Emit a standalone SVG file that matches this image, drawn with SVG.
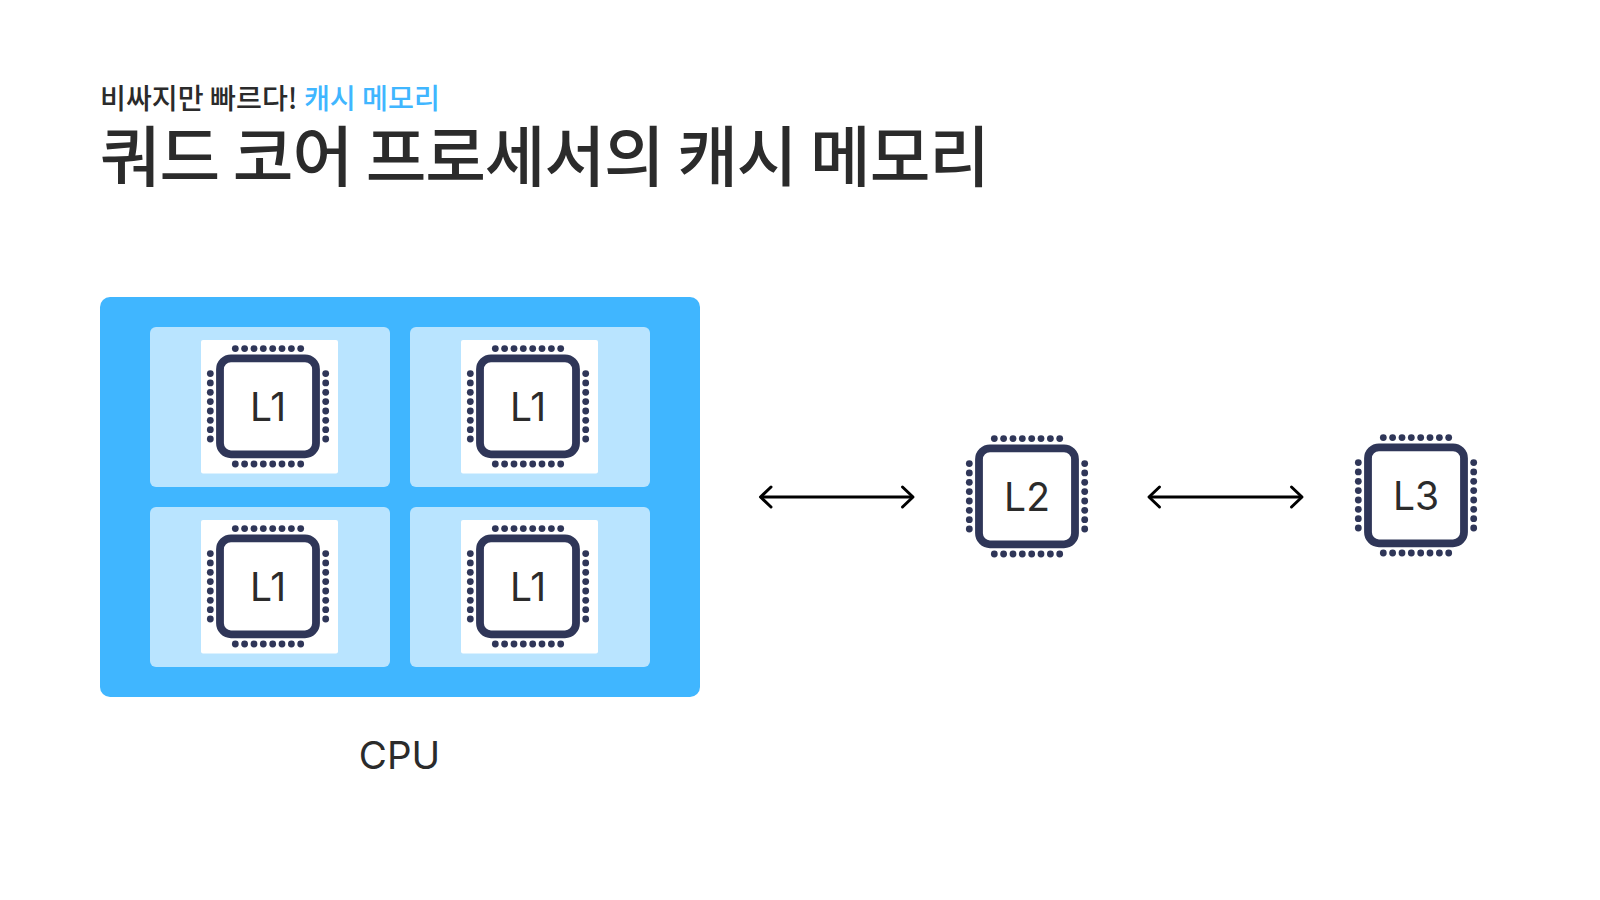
<svg xmlns="http://www.w3.org/2000/svg" width="1600" height="900" viewBox="0 0 1600 900">
<style>
text{font-family:"Inter","Noto Sans CJK KR",sans-serif;fill:#2b2b2b}
.k{font-family:"Noto Sans CJK KR",sans-serif}
.lab{font-size:39px;text-anchor:middle}
.panel{fill:#b9e4ff}
.wh{fill:#fff}
.conn{fill:none;stroke:#000;stroke-width:2.8}
</style>
<defs>
<g id="chip">
<rect x="-48" y="-48" width="96" height="96" rx="11" fill="#fff" stroke="#2f3658" stroke-width="7.8"/>
<g fill="#2f3658">
<circle cx="-32.7" cy="-57.7" r="3.4"/><circle cx="-23.4" cy="-57.7" r="3.4"/><circle cx="-14" cy="-57.7" r="3.4"/><circle cx="-4.7" cy="-57.7" r="3.4"/><circle cx="4.7" cy="-57.7" r="3.4"/><circle cx="14" cy="-57.7" r="3.4"/><circle cx="23.4" cy="-57.7" r="3.4"/><circle cx="32.7" cy="-57.7" r="3.4"/>
<circle cx="-32.7" cy="57.7" r="3.4"/><circle cx="-23.4" cy="57.7" r="3.4"/><circle cx="-14" cy="57.7" r="3.4"/><circle cx="-4.7" cy="57.7" r="3.4"/><circle cx="4.7" cy="57.7" r="3.4"/><circle cx="14" cy="57.7" r="3.4"/><circle cx="23.4" cy="57.7" r="3.4"/><circle cx="32.7" cy="57.7" r="3.4"/>
<circle cx="-57.7" cy="-32.7" r="3.4"/><circle cx="-57.7" cy="-23.4" r="3.4"/><circle cx="-57.7" cy="-14" r="3.4"/><circle cx="-57.7" cy="-4.7" r="3.4"/><circle cx="-57.7" cy="4.7" r="3.4"/><circle cx="-57.7" cy="14" r="3.4"/><circle cx="-57.7" cy="23.4" r="3.4"/><circle cx="-57.7" cy="32.7" r="3.4"/>
<circle cx="57.7" cy="-32.7" r="3.4"/><circle cx="57.7" cy="-23.4" r="3.4"/><circle cx="57.7" cy="-14" r="3.4"/><circle cx="57.7" cy="-4.7" r="3.4"/><circle cx="57.7" cy="4.7" r="3.4"/><circle cx="57.7" cy="14" r="3.4"/><circle cx="57.7" cy="23.4" r="3.4"/><circle cx="57.7" cy="32.7" r="3.4"/>
</g>
</g>
<marker id="ah" markerUnits="userSpaceOnUse" markerWidth="28" markerHeight="28" refX="14" refY="14" orient="auto-start-reverse" viewBox="0 0 28 28">
<path d="M3.500 4L14 14L3.500 24" fill="none" stroke="#000" stroke-width="3" stroke-linecap="round" stroke-linejoin="round"/>
</marker>
</defs>
<rect width="1600" height="900" fill="#fff"/>
<g id="title">
<text class="k" x="100" y="109" font-size="28.200" style="font-weight:450">비싸지만 빠르다! <tspan style="fill:#40b6ff">캐시 메모리</tspan></text>
<text class="k" x="100" y="181" font-size="66" letter-spacing="-1.15" style="font-weight:500">쿼드 코어 프로세서의 캐시 메모리</text>
</g>
<g id="cpu">
<rect x="100" y="297" width="600" height="400" rx="10" fill="#40b6ff"/>
<text x="399.500" y="769" font-size="38.500" text-anchor="middle">CPU</text>
</g>
<g id="l1-a">
<rect class="panel" x="150" y="327" width="240" height="160" rx="6"/>
<rect class="wh" x="201" y="340" width="137" height="133.500" rx="2"/>
<use href="#chip" x="268" y="406.300"/>
<text class="lab" x="268" y="420.700">L1</text>
</g>
<g id="l1-b">
<rect class="panel" x="410" y="327" width="240" height="160" rx="6"/>
<rect class="wh" x="461" y="340" width="137" height="133.500" rx="2"/>
<use href="#chip" x="528" y="406.300"/>
<text class="lab" x="528" y="420.700">L1</text>
</g>
<g id="l1-c">
<rect class="panel" x="150" y="507" width="240" height="160" rx="6"/>
<rect class="wh" x="201" y="520" width="137" height="133.500" rx="2"/>
<use href="#chip" x="268" y="586.300"/>
<text class="lab" x="268" y="600.700">L1</text>
</g>
<g id="l1-d">
<rect class="panel" x="410" y="507" width="240" height="160" rx="6"/>
<rect class="wh" x="461" y="520" width="137" height="133.500" rx="2"/>
<use href="#chip" x="528" y="586.300"/>
<text class="lab" x="528" y="600.700">L1</text>
</g>
<g id="l2">
<use href="#chip" x="1027" y="496.300"/>
<text class="lab" x="1027" y="510.700">L2</text>
</g>
<g id="l3">
<use href="#chip" x="1416" y="495.300"/>
<text class="lab" x="1416" y="509.700">L3</text>
</g>
<g id="connectors">
<path class="conn" d="M760.500 497H913" marker-start="url(#ah)" marker-end="url(#ah)"/>
<path class="conn" d="M1149 497H1302" marker-start="url(#ah)" marker-end="url(#ah)"/>
</g>
</svg>
